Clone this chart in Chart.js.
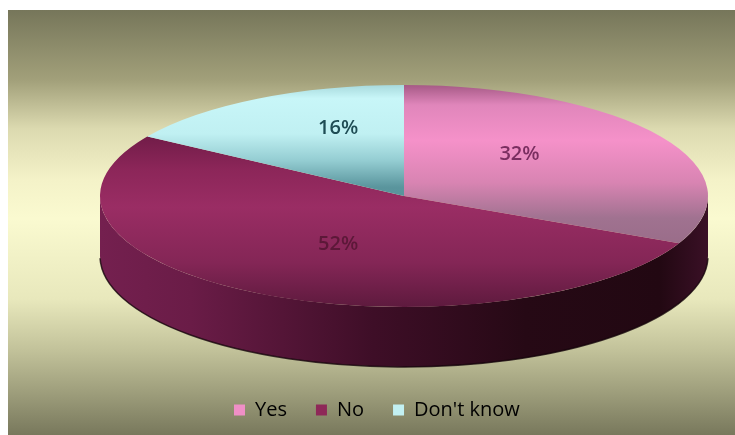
<!DOCTYPE html>
<html>
<head>
<meta charset="utf-8">
<script src="https://cdn.jsdelivr.net/npm/chart.js@4.4.0/dist/chart.umd.min.js"></script>
<style>
  html, body { margin: 0; padding: 0; background: #fff; }
  #wrap { width: 735px; height: 435px; }
</style>
</head>
<body>
<div id="wrap"><canvas id="grafico"></canvas></div>
<script>
// Survey answers (percent)
const categories = ['Yes', 'No', "Don't know"];
const answers = [32, 52, 16];

// Flat colours for the legend swatches
const swatchColors = ['#ef8fc6', '#8e2858', '#c2f0f2'];
const labelColors = ['#7a2e60', '#5c1838', '#1e4c54'];

// Vertical shading of each slice's top face (0 = back rim, 1 = front rim)
const topShades = [
  [[0, '#a65a86'], [0.09, '#e086bb'], [0.25, '#f591c9'], [0.44, '#d884b2'], [0.6, '#a07290'], [1, '#8a6078']],
  [[0, '#5a1238'], [0.2, '#6c1a45'], [0.38, '#8c2659'], [0.55, '#9a2d64'], [0.8, '#842656'], [1, '#5e1a3e']],
  [[0, '#a8dadd'], [0.06, '#c8f6f8'], [0.22, '#c0f0f2'], [0.34, '#94cdd2'], [0.46, '#5a959d'], [1, '#4a8088']]
];

const RADIUS = 304;     // horizontal radius of the disc, px
const SQUASH = 0.365;   // vertical squash of the top face
const DEPTH = 60;       // thickness of the side wall, px

function topFace(c) {
  const area = c.chart.chartArea;
  if (!area) return swatchColors[c.dataIndex];
  const cy = (area.top + area.bottom) / 2;
  const g = c.chart.ctx.createLinearGradient(0, cy - RADIUS, 0, cy + RADIUS);
  topShades[c.dataIndex].forEach(([t, col]) => g.addColorStop(t, col));
  return g;
}

// Draws the panel background, the side wall and squashes the top face
const pie3d = {
  id: 'pie3d',
  beforeDraw(chart) {
    const ctx = chart.ctx;
    const g = ctx.createLinearGradient(0, 10, 0, 435);
    g.addColorStop(0, '#76765a');
    g.addColorStop(0.165, '#a2a07a');
    g.addColorStop(0.28, '#dcdab0');
    g.addColorStop(0.4, '#f4f2c8');
    g.addColorStop(0.49, '#fafad0');
    g.addColorStop(0.68, '#e8e8bc');
    g.addColorStop(0.8, '#c2c29a');
    g.addColorStop(0.905, '#9c9c7a');
    g.addColorStop(1, '#78785c');
    ctx.save();
    ctx.fillStyle = g;
    ctx.fillRect(8, 10, 727, 425);
    ctx.restore();
  },
  beforeDatasetsDraw(chart) {
    const ctx = chart.ctx;
    const arcs = chart.getDatasetMeta(0).data;
    const cx = arcs[0].x, cy = arcs[0].y, r = arcs[0].outerRadius;
    const ry = r * SQUASH;

    const side = ctx.createLinearGradient(cx - r, 0, cx + r, 0);
    side.addColorStop(0, '#74204f');
    side.addColorStop(0.15, '#6a1c47');
    side.addColorStop(0.45, '#3e0e27');
    side.addColorStop(0.7, '#260915');
    side.addColorStop(0.92, '#220812');
    side.addColorStop(1, '#3a1026');

    ctx.save();
    // only the front half of the wall can be seen; segments overlap a hair to hide seams
    arcs.forEach(arc => {
      const a = Math.max(arc.startAngle - 0.01, 0);
      const b = Math.min(arc.endAngle + 0.01, Math.PI);
      if (b <= a) return;
      ctx.beginPath();
      ctx.ellipse(cx, cy, r, ry, 0, a, b);
      ctx.ellipse(cx, cy + DEPTH, r, ry, 0, b, a, true);
      ctx.closePath();
      ctx.fillStyle = side;
      ctx.fill();
    });
    // dark rim along the bottom edge
    ctx.beginPath();
    ctx.ellipse(cx, cy + DEPTH, r, ry, 0, 0.02, Math.PI - 0.02);
    ctx.strokeStyle = 'rgba(20,4,10,0.8)';
    ctx.lineWidth = 1.5;
    ctx.stroke();
    ctx.restore();

    ctx.save();
    ctx.translate(cx, cy);
    ctx.scale(1, SQUASH);
    ctx.translate(-cx, -cy);
  },
  afterDatasetsDraw(chart) {
    const ctx = chart.ctx;
    ctx.restore();

    const arcs = chart.getDatasetMeta(0).data;
    const total = answers.reduce((s, v) => s + v, 0);
    ctx.save();
    ctx.font = '600 20px "Open Sans"';
    ctx.textAlign = 'center';
    ctx.textBaseline = 'middle';
    arcs.forEach((arc, i) => {
      const mid = (arc.startAngle + arc.endAngle) / 2;
      const s = Math.sin(mid);
      // labels toward the back are lifted a little, like a perspective view
      const fy = s < 0 ? 0.7 : 0.5;
      const x = arc.x + Math.cos(mid) * arc.outerRadius * 0.45;
      const y = arc.y + s * arc.outerRadius * fy * SQUASH;
      ctx.fillStyle = labelColors[i];
      ctx.fillText(Math.round(answers[i] / total * 100) + '%', x, y);
    });
    ctx.restore();
  }
};

new Chart(document.getElementById('grafico'), {
  type: 'pie',
  data: {
    labels: categories,
    datasets: [{
      data: answers,
      backgroundColor: topFace,
      borderWidth: 0,
      radius: RADIUS,
      clip: false
    }]
  },
  options: {
    responsive: true,
    maintainAspectRatio: false,
    animation: false,
    events: [],
    layout: { padding: { left: 205, right: 132, top: 21, bottom: 5 } },
    plugins: {
      tooltip: { enabled: false },
      legend: {
        position: 'bottom',
        align: 'start',
        labels: {
          boxWidth: 11,
          boxHeight: 11,
          padding: 29,
          color: '#262618',
          font: { family: 'Open Sans', size: 20 },
          generateLabels(chart) {
            return categories.map((name, i) => ({
              text: name,
              fillStyle: swatchColors[i],
              strokeStyle: 'rgba(0,0,0,0)',
              lineWidth: 0,
              index: i
            }));
          }
        }
      }
    }
  },
  plugins: [pie3d]
});
</script>
</body>
</html>
